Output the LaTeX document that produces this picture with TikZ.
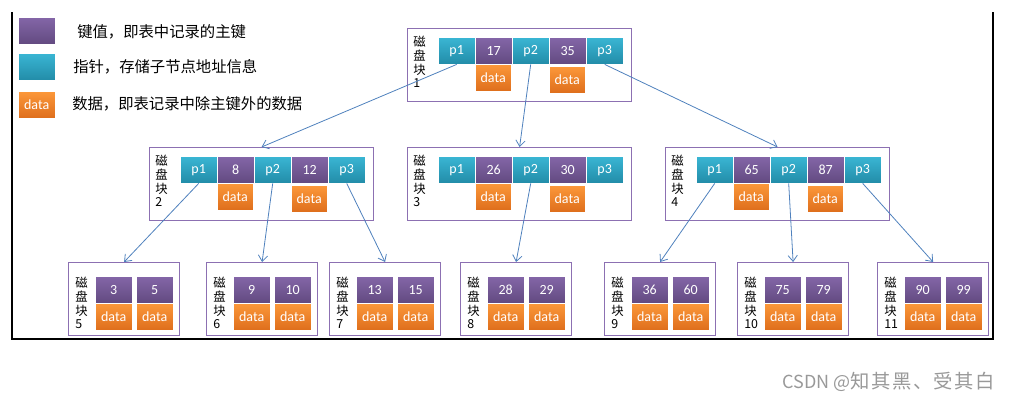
\documentclass[tikz,border=0pt]{standalone}
\usepackage{fontspec}
\setmainfont{Carlito}
\newfontfamily\cjk{Noto Sans CJK SC}
\newfontfamily\markcjk[LetterSpace=8]{Noto Sans CJK SC}
\usetikzlibrary{arrows.meta,shadows}
\definecolor{keytop}{RGB}{132,102,168}
\definecolor{keybot}{RGB}{98,74,128}
\definecolor{ptrtop}{RGB}{58,182,212}
\definecolor{ptrbot}{RGB}{34,140,168}
\definecolor{rectop}{RGB}{252,152,58}
\definecolor{recbot}{RGB}{222,110,28}
\definecolor{diskline}{RGB}{140,112,178}
\definecolor{arrowline}{RGB}{79,129,189}
\tikzstyle{disk} = [rectangle, draw=diskline, line width=0.9pt, fill=white,
                 anchor=north west, inner sep=0, minimum width=168pt, minimum height=54.75pt]
\tikzstyle{leaf} = [disk, minimum width=83.25pt]
\tikzstyle{cell} = [rectangle, draw=white, line width=0.3pt, anchor=north west,
                 inner sep=0, minimum width=27.75pt, minimum height=20.25pt, text=white,
                 font=\fontsize{10.5}{11}\selectfont,
                 drop shadow={opacity=0.25, shadow xshift=0.8pt, shadow yshift=-0.8pt}]
\tikzstyle{keycell} = [cell, top color=keytop, bottom color=keybot]
\tikzstyle{ptrcell} = [cell, top color=ptrtop, bottom color=ptrbot]
\tikzstyle{reccell} = [cell, top color=rectop, bottom color=recbot, minimum width=27pt]
\tikzstyle{tag} = [anchor=north west, inner sep=0, align=left, font=\cjk\fontsize{9.3}{10.3}\selectfont]
\tikzstyle{note} = [anchor=west, inner sep=0, font=\cjk\fontsize{11.5}{12}\selectfont]
\tikzstyle{branch} = [draw=arrowline, line width=0.6pt, -{Straight Barb[length=4.5pt,width=7pt]}]
\begin{document}
\begin{tikzpicture}[x=0.75pt,y=-0.75pt]
\useasboundingbox (0,0) rectangle (1013,401);

\draw [line width=1.1pt] (12,12) -- (12,339) -- (993,339) -- (993,12);

%legend
\node [keycell] (lk) at (18,17) {};
\node [ptrcell] (lp) at (18,53) {};
\node [reccell, minimum width=27.75pt] (lr) at (18,91) {data};
\node [note] (lkt) at (77,32) {键值，即表中记录的主键};
\node [note] (lpt) at (73,67) {指针，存储子节点地址信息};
\node [note] (lrt) at (72,104) {数据，即表记录中除主键外的数据};

%inner blocks
\foreach \n/\bx/\by/\ka/\kb in {1/407/28/17/35, 2/149/147/8/12, 3/407/147/26/30, 4/665/147/65/87}{
	\node [disk] (d\n) at (\bx,\by) {};
	\node [tag] (t\n) at ({\bx+6},{\by+8}) {磁\\盘\\块\\\n};
	\node [ptrcell] (d\n-p1) at ({\bx+31},{\by+9}) {p1};
	\node [keycell] (d\n-k1) at ({\bx+68},{\by+9}) {\ka};
	\node [ptrcell] (d\n-p2) at ({\bx+105},{\by+9}) {p2};
	\node [keycell] (d\n-k2) at ({\bx+142},{\by+9}) {\kb};
	\node [ptrcell] (d\n-p3) at ({\bx+179},{\by+9}) {p3};
	\node [reccell] (d\n-r1) at ({\bx+68},{\by+36}) {data};
	\node [reccell] (d\n-r2) at ({\bx+142},{\by+38}) {data};
}

%leaf blocks
\foreach \n/\bx/\ka/\kb in {5/68/3/5, 6/206/9/10, 7/329/13/15, 8/460/28/29, 9/604/36/60, 10/737/75/79, 11/877/90/99}{
	\node [leaf] (d\n) at (\bx,262) {};
	\node [tag] (t\n) at ({\bx+7},277) {磁\\盘\\块\\\n};
	\node [keycell] (d\n-k1) at ({\bx+27},276) {\ka};
	\node [reccell, minimum width=27.75pt] (d\n-r1) at ({\bx+27},303) {data};
	\node [keycell] (d\n-k2) at ({\bx+68},276) {\kb};
	\node [reccell, minimum width=27.75pt] (d\n-r2) at ({\bx+68},303) {data};
}

\path [branch] (d1-p1.south) -- (d2.north);
\path [branch] (d1-p2.south) -- (d3.north);
\path [branch] (d1-p3.south) -- (d4.north);
\path [branch] (d2-p1.south) -- (d5.north);
\path [branch] (d2-p2.south) -- (d6.north);
\path [branch] (d2-p3.south) -- (d7.north);
\path [branch] (d3-p2.south) -- (d8.north);
\path [branch] (d4-p1.south) -- (d9.north);
\path [branch] (d4-p2.south) -- (d10.north);
\path [branch] (d4-p3.south) -- (d11.north);

\node [anchor=west, inner sep=0, text=black!40, font=\cjk\fontsize{13.5}{14}\selectfont] (mark) at (782,382) {CSDN @{\markcjk\fontsize{14.5}{14}\selectfont 知其黑、受其白}};
\end{tikzpicture}
\end{document}
